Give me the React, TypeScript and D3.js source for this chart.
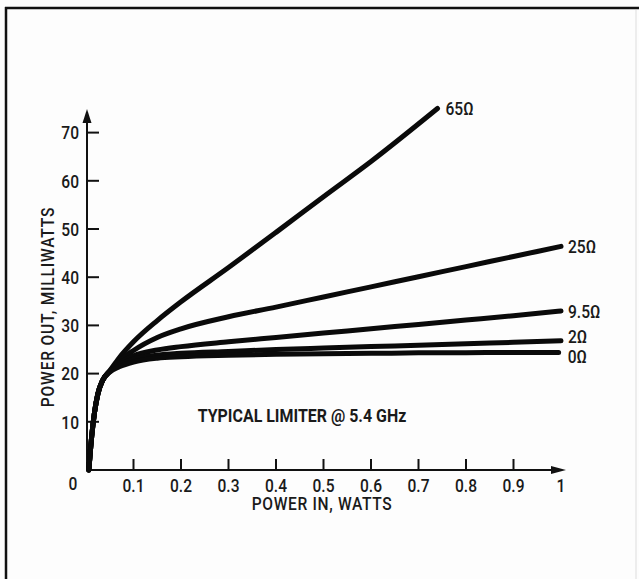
import React from "react";
import * as d3 from "d3";

// Limiter transfer curves: power out (mW) vs power in (W), one per bias resistance.
type Pt = [number, number];

const ohms65: Pt[] = [
  [0.006, 0], [0.012, 7], [0.018, 12], [0.025, 15.8], [0.035, 18.6], [0.05, 20.6],
  [0.07, 23.3], [0.1, 26.6], [0.15, 31.0], [0.2, 34.9], [0.3, 42], [0.4, 49.3],
  [0.5, 56.7], [0.6, 64], [0.74, 75],
];
const ohms25: Pt[] = [
  [0.006, 0], [0.012, 7], [0.018, 12], [0.025, 15.8], [0.035, 18.6], [0.05, 20.5],
  [0.07, 22.6], [0.1, 24.8], [0.15, 27.5], [0.2, 29.3], [0.3, 31.8], [0.4, 33.8],
  [0.5, 35.9], [0.6, 38], [0.7, 40.1], [0.8, 42.2], [0.9, 44.3], [1.0, 46.4],
];
const ohms9p5: Pt[] = [
  [0.006, 0], [0.012, 7], [0.018, 12], [0.025, 15.8], [0.035, 18.6], [0.05, 20.5],
  [0.07, 22.2], [0.1, 23.7], [0.15, 24.9], [0.2, 25.6], [0.3, 26.6], [0.4, 27.5],
  [0.5, 28.4], [0.6, 29.3], [0.7, 30.2], [0.8, 31.1], [0.9, 32.0], [1.0, 33.0],
];
const ohms2: Pt[] = [
  [0.006, 0], [0.012, 7], [0.018, 12], [0.025, 15.8], [0.035, 18.6], [0.05, 20.4],
  [0.07, 21.8], [0.1, 23.0], [0.15, 23.8], [0.2, 24.2], [0.3, 24.6], [0.4, 25.0],
  [0.5, 25.3], [0.6, 25.6], [0.7, 25.9], [0.8, 26.2], [0.9, 26.5], [1.0, 26.8],
];
const ohms0: Pt[] = [
  [0.006, 0], [0.012, 7], [0.018, 12], [0.025, 15.8], [0.035, 18.6], [0.05, 20.3],
  [0.07, 21.4], [0.1, 22.4], [0.15, 23.2], [0.2, 23.5], [0.3, 23.8], [0.4, 24.0],
  [0.5, 24.1], [0.6, 24.2], [0.7, 24.3], [0.8, 24.35], [0.9, 24.4], [0.995, 24.4],
];

const seriesNames = ["65Ω", "25Ω", "9.5Ω", "2Ω", "0Ω"];
const seriesData = [ohms65, ohms25, ohms9p5, ohms2, ohms0];
// vertical nudge of each end label (px), to keep the close ones apart
const labelNudge = [0, 0, 0, -5, 4];
const labelGap = [8, 7, 7, 7, 9];

const xTicks = [0.1, 0.2, 0.3, 0.4, 0.5, 0.6, 0.7, 0.8, 0.9, 1];
const xTickLabels = ["0.1", "0.2", "0.3", "0.4", "0.5", "0.6", "0.7", "0.8", "0.9", "1"];
const yTicks = [10, 20, 30, 40, 50, 60, 70];

const xTitle = "POWER IN, WATTS";
const yTitle = "POWER OUT, MILLIWATTS";
const note = "TYPICAL LIMITER @ 5.4 GHz";

const W = 639;
const H = 579;
const FONT = "Roboto, 'Liberation Sans', sans-serif";
const INK = "#1a1a1a";

// Condensed lettering: regular face squeezed horizontally.
function Txt(props: {
  x: number;
  y: number;
  children: React.ReactNode;
  anchor?: "start" | "middle" | "end";
  size?: number;
  weight?: number;
  rotate?: number;
  squeeze?: number;
  spacing?: number;
}) {
  const { x, y, children, anchor = "middle", size = 19, weight = 500, rotate = 0, squeeze = 0.82, spacing = 0 } = props;
  return (
    <text
      transform={`translate(${x},${y}) rotate(${rotate}) scale(${squeeze},1)`}
      dy="0.36em"
      textAnchor={anchor}
      fontSize={size}
      fontWeight={weight}
      letterSpacing={spacing}
      fill={INK}
    >
      {children}
    </text>
  );
}

export default function App() {
  const x = d3.scaleLinear().domain([0, 1]).range([86, 561]);
  const y = d3.scaleLinear().domain([0, 70]).range([470, 132.6]);
  const line = d3
    .line<Pt>()
    .x((d) => x(d[0]))
    .y((d) => y(d[1]))
    .curve(d3.curveMonotoneX);

  const x0 = x(0) + 1;
  const y0 = y(0);

  return (
    <svg
      width={W}
      height={H}
      style={{ position: "absolute", left: 0, top: 0, background: "#fdfdfd" }}
      fontFamily={FONT}
    >
      {/* frame */}
      <line x1={5} y1={8} x2={W} y2={8} stroke="#111" strokeWidth={2.5} />
      <line x1={6} y1={7} x2={6} y2={H} stroke="#111" strokeWidth={2.5} />
      <line x1={636} y1={10} x2={636} y2={H} stroke="#ddd" strokeWidth={1} />

      {/* axes */}
      <line x1={x0} y1={y0} x2={555} y2={y0} stroke="#111" strokeWidth={2} />
      <path d={`M566,${y0} L551,${y0 - 4} L551,${y0 + 4} Z`} fill="#111" />
      <line x1={x0} y1={y0} x2={x0} y2={120} stroke="#111" strokeWidth={2} />
      <path d={`M${x0},109 L${x0 - 4.5},123 L${x0 + 4.5},123 Z`} fill="#111" />

      {xTicks.map((t, i) => (
        <g key={"xt" + i}>
          {i < xTicks.length - 1 && (
            <line x1={x(t)} x2={x(t)} y1={y0} y2={y0 - 11} stroke="#111" strokeWidth={2} />
          )}
          <Txt x={x(t)} y={y0 + 15}>{xTickLabels[i]}</Txt>
        </g>
      ))}
      {yTicks.map((t) => (
        <g key={"yt" + t}>
          <line x1={x0} x2={x0 + 12} y1={y(t)} y2={y(t)} stroke="#111" strokeWidth={2} />
          <Txt x={79} y={y(t)} anchor="end">{t}</Txt>
        </g>
      ))}
      <Txt x={73} y={y0 + 13}>0</Txt>

      {/* titles */}
      <Txt x={322} y={503} spacing={0.8}>{xTitle}</Txt>
      <Txt x={47} y={307} rotate={-90} spacing={1}>{yTitle}</Txt>
      <Txt x={302} y={415} size={19} weight={700} squeeze={0.84}>{note}</Txt>

      {/* curves */}
      {seriesData.map((s, i) => (
        <path
          key={"c" + i}
          d={line(s) || ""}
          fill="none"
          stroke="#0a0a0a"
          strokeWidth={5}
          strokeLinecap="round"
          strokeLinejoin="round"
        />
      ))}
      {seriesData.map((s, i) => {
        const last = s[s.length - 1];
        return (
          <Txt
            key={"l" + i}
            x={x(last[0]) + labelGap[i]}
            y={y(last[1]) + labelNudge[i]}
            anchor="start"
          >
            {seriesNames[i]}
          </Txt>
        );
      })}
    </svg>
  );
}
